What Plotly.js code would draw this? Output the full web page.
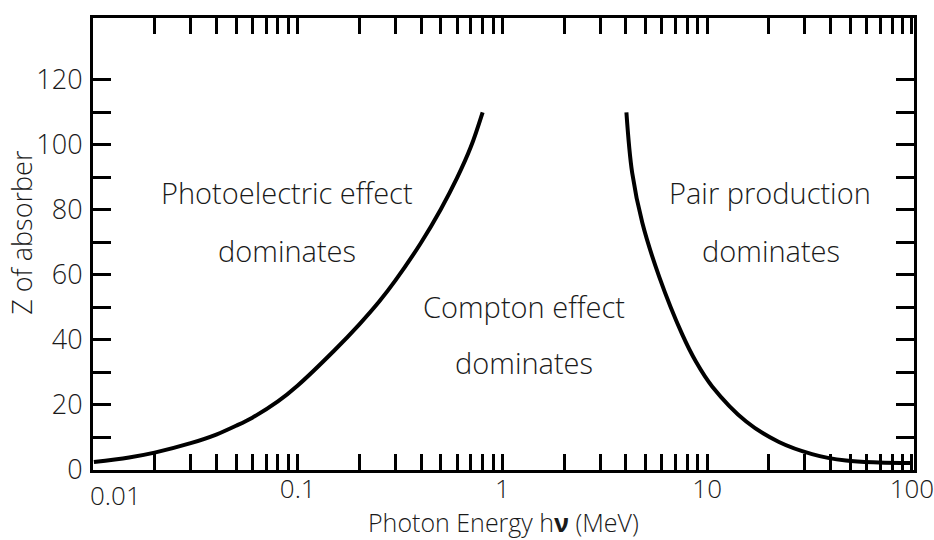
<!DOCTYPE html>
<html>
<head>
<meta charset="utf-8">
<script src="https://cdn.plot.ly/plotly-3.0.1.min.js"></script>
<style>html,body{margin:0;padding:0;background:#fff;}#chart{width:934px;height:540px;}</style>
</head>
<body>
<div id="chart"></div>
<script>
// Photoelectric / Compton boundary
const photoEnergy = [0.0101, 0.015, 0.02, 0.03, 0.04, 0.05, 0.06, 0.08, 0.1,  0.15, 0.2,  0.25, 0.3,  0.4,  0.5,  0.6,  0.7,  0.8];
const photoZ      = [2.46,   3.85,  5.35, 8.25, 10.9, 13.6, 16.1, 21.1, 26.0, 36.6, 44.8, 51.8, 58.3, 69.9, 80.2, 89.8, 99.3, 110];
// Compton / pair production boundary
const pairEnergy = [4.03, 4.30, 4.82, 5.83, 7.55, 8.83, 10.57, 15.5, 22.4, 32.5, 47.6, 69.0, 98.0];
const pairZ      = [110,  91.4, 76.0, 59.4, 41.7, 33.2, 25.7,  14.9, 8.6,  4.9,  2.9,  2.3,  2.15];

// x-axis ticks
const xTickVals = [0.01,0.02,0.03,0.04,0.05,0.06,0.07,0.08,0.09,
                   0.1,0.2,0.3,0.4,0.5,0.6,0.7,0.8,0.9,
                   1,2,3,4,5,6,7,8,9,
                   10,20,30,40,50,60,70,80,90,100];
const xTickText = ["","","","","","","","","",
                   "0.1","","","","","","","","",
                   "1","","","","","","","","",
                   "10","","","","","","","","","100"];
const firstXLabel = "0.01";
// y-axis ticks
const yTickVals = [0,10,20,30,40,50,60,70,80,90,100,110,120];
const yTickText = ["0","","20","","40","","60","","80","","100","","120"];

// titles
const xTitle = "Photon Energy h<b>ν</b> (MeV)";
const yTitle = "Z of absorber";

// region labels
const regionLabels = ["Photoelectric effect","dominates","Compton effect","dominates","Pair production","dominates"];
const regionE = [0.089, 0.089, 1.28, 1.28, 20.3, 20.6];
const regionZ = [85.2, 67.4, 50.2, 33.2, 85.2, 67.4];

const FONT = "Open Sans, Noto Sans, sans-serif";
const TXT = "#1a1a1a";

const traces = [
  {x: photoEnergy, y: photoZ, type: "scatter", mode: "lines",
   line: {color: "#000", width: 4, shape: "spline", smoothing: 1}, hoverinfo: "skip"},
  {x: pairEnergy, y: pairZ, type: "scatter", mode: "lines",
   line: {color: "#000", width: 4, shape: "spline", smoothing: 1}, hoverinfo: "skip"}
];

const annotations = regionLabels.map((t, i) => ({
  x: Math.log10(regionE[i]), y: regionZ[i], xref: "x", yref: "y",
  text: t, showarrow: false, xanchor: "center", yanchor: "middle",
  font: {family: FONT, size: 29, color: TXT, weight: 300}
}));
annotations.push({
  x: Math.log10(xTickVals[0]), y: 0, xref: "x", yref: "y",
  text: firstXLabel, showarrow: false, xanchor: "left", yanchor: "top",
  yshift: -5, xshift: -5,
  font: {family: FONT, size: 26, color: TXT, weight: 300}
});
annotations.push({
  x: 0.5, y: -0.116, xref: "paper", yref: "paper",
  text: xTitle, showarrow: false, xanchor: "center", yanchor: "middle",
  font: {family: FONT, size: 25, color: TXT, weight: 300}
});
annotations.push({
  x: -0.0865, y: 0.527, xref: "paper", yref: "paper", textangle: -90,
  text: yTitle, showarrow: false, xanchor: "center", yanchor: "middle",
  font: {family: FONT, size: 27, color: TXT, weight: 300}
});

const layout = {
  width: 934, height: 540,
  margin: {l: 93, r: 20, t: 18, b: 70},
  paper_bgcolor: "#fff", plot_bgcolor: "#fff",
  showlegend: false,
  font: {family: FONT, color: TXT},
  xaxis: {
    type: "log", range: [-2, 2.01],
    tickvals: xTickVals, ticktext: xTickText,
    ticks: "inside", ticklen: 16, tickwidth: 3, tickcolor: "#000",
    showline: true, linecolor: "#000", linewidth: 3, mirror: "ticks",
    showgrid: false, zeroline: false,
    tickfont: {family: FONT, size: 26, color: TXT, weight: 300},
    ticklabelstandoff: -6, ticklabeloverflow: "allow"
  },
  yaxis: {
    range: [0, 139],
    tickvals: yTickVals, ticktext: yTickText,
    ticks: "inside", ticklen: 18, tickwidth: 3, tickcolor: "#000",
    showline: true, linecolor: "#000", linewidth: 3, mirror: "ticks",
    showgrid: false, zeroline: false,
    tickfont: {family: FONT, size: 27, color: TXT, weight: 300},
    ticklabelstandoff: 2
  },
  annotations: annotations
};

Plotly.newPlot("chart", traces, layout, {displayModeBar: false, staticPlot: true});
</script>
</body>
</html>
